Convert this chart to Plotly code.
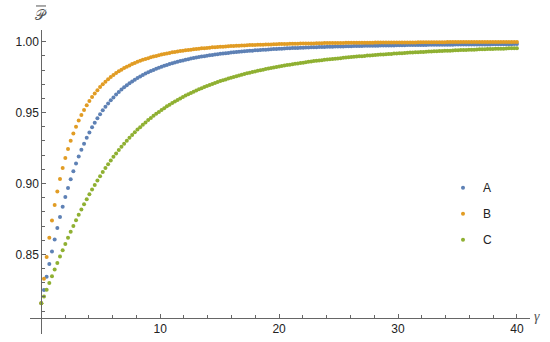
import numpy as np
import plotly.graph_objects as go

# sampling grid along gamma (dots are ~0.225 apart)
GAMMA = np.linspace(0, 40, 179)

P_A = [
    0.8155, 0.8249, 0.8342, 0.8433, 0.8521, 0.8605, 0.8686, 0.8763, 0.8836, 0.8904,
    0.8969, 0.9030, 0.9087, 0.9141, 0.9191, 0.9238, 0.9281, 0.9322, 0.9360, 0.9396,
    0.9429, 0.9460, 0.9489, 0.9516, 0.9541, 0.9565, 0.9587, 0.9607, 0.9627, 0.9645,
    0.9662, 0.9678, 0.9693, 0.9707, 0.9720, 0.9732, 0.9744, 0.9755, 0.9765, 0.9775,
    0.9784, 0.9793, 0.9801, 0.9809, 0.9817, 0.9824, 0.9830, 0.9836, 0.9842, 0.9848,
    0.9853, 0.9859, 0.9863, 0.9868, 0.9873, 0.9877, 0.9881, 0.9885, 0.9888, 0.9892,
    0.9895, 0.9898, 0.9901, 0.9904, 0.9907, 0.9910, 0.9912, 0.9915, 0.9917, 0.9919,
    0.9921, 0.9923, 0.9925, 0.9927, 0.9929, 0.9931, 0.9933, 0.9934, 0.9936, 0.9937,
    0.9939, 0.9940, 0.9942, 0.9943, 0.9944, 0.9945, 0.9946, 0.9948, 0.9949, 0.9950,
    0.9951, 0.9952, 0.9953, 0.9954, 0.9955, 0.9955, 0.9956, 0.9957, 0.9958, 0.9959,
    0.9959, 0.9960, 0.9961, 0.9961, 0.9962, 0.9963, 0.9963, 0.9964, 0.9964, 0.9965,
    0.9966, 0.9966, 0.9967, 0.9967, 0.9968, 0.9968, 0.9968, 0.9969, 0.9969, 0.9970,
    0.9970, 0.9971, 0.9971, 0.9971, 0.9972, 0.9972, 0.9972, 0.9973, 0.9973, 0.9973,
    0.9974, 0.9974, 0.9974, 0.9975, 0.9975, 0.9975, 0.9975, 0.9976, 0.9976, 0.9976,
    0.9976, 0.9977, 0.9977, 0.9977, 0.9977, 0.9978, 0.9978, 0.9978, 0.9978, 0.9978,
    0.9979, 0.9979, 0.9979, 0.9979, 0.9979, 0.9980, 0.9980, 0.9980, 0.9980, 0.9980,
    0.9980, 0.9981, 0.9981, 0.9981, 0.9981, 0.9981, 0.9981, 0.9981, 0.9981, 0.9982,
    0.9982, 0.9982, 0.9982, 0.9982, 0.9982, 0.9982, 0.9982, 0.9983, 0.9983,
]

P_B = [
    0.8155, 0.8328, 0.8482, 0.8618, 0.8739, 0.8848, 0.8944, 0.9031, 0.9110, 0.9180,
    0.9244, 0.9301, 0.9353, 0.9401, 0.9444, 0.9483, 0.9519, 0.9552, 0.9582, 0.9610,
    0.9635, 0.9658, 0.9680, 0.9700, 0.9718, 0.9735, 0.9751, 0.9765, 0.9779, 0.9791,
    0.9803, 0.9814, 0.9824, 0.9833, 0.9842, 0.9850, 0.9858, 0.9865, 0.9872, 0.9878,
    0.9884, 0.9890, 0.9895, 0.9900, 0.9905, 0.9909, 0.9913, 0.9917, 0.9921, 0.9925,
    0.9928, 0.9931, 0.9934, 0.9937, 0.9939, 0.9942, 0.9944, 0.9946, 0.9949, 0.9951,
    0.9953, 0.9954, 0.9956, 0.9958, 0.9960, 0.9961, 0.9962, 0.9964, 0.9965, 0.9966,
    0.9968, 0.9969, 0.9970, 0.9971, 0.9972, 0.9973, 0.9974, 0.9975, 0.9976, 0.9976,
    0.9977, 0.9978, 0.9979, 0.9979, 0.9980, 0.9981, 0.9981, 0.9982, 0.9982, 0.9983,
    0.9983, 0.9984, 0.9984, 0.9985, 0.9985, 0.9986, 0.9986, 0.9987, 0.9987, 0.9987,
    0.9988, 0.9988, 0.9988, 0.9989, 0.9989, 0.9989, 0.9990, 0.9990, 0.9990, 0.9990,
    0.9991, 0.9991, 0.9991, 0.9991, 0.9992, 0.9992, 0.9992, 0.9992, 0.9992, 0.9993,
    0.9993, 0.9993, 0.9993, 0.9993, 0.9993, 0.9994, 0.9994, 0.9994, 0.9994, 0.9994,
    0.9994, 0.9994, 0.9995, 0.9995, 0.9995, 0.9995, 0.9995, 0.9995, 0.9995, 0.9995,
    0.9995, 0.9996, 0.9996, 0.9996, 0.9996, 0.9996, 0.9996, 0.9996, 0.9996, 0.9996,
    0.9996, 0.9996, 0.9997, 0.9997, 0.9997, 0.9997, 0.9997, 0.9997, 0.9997, 0.9997,
    0.9997, 0.9997, 0.9997, 0.9997, 0.9997, 0.9997, 0.9997, 0.9997, 0.9997, 0.9998,
    0.9998, 0.9998, 0.9998, 0.9998, 0.9998, 0.9998, 0.9998, 0.9998, 0.9998,
]

P_C = [
    0.8155, 0.8203, 0.8251, 0.8298, 0.8346, 0.8393, 0.8439, 0.8485, 0.8529, 0.8574,
    0.8617, 0.8659, 0.8700, 0.8740, 0.8779, 0.8817, 0.8854, 0.8889, 0.8924, 0.8957,
    0.8990, 0.9021, 0.9051, 0.9081, 0.9109, 0.9136, 0.9162, 0.9188, 0.9212, 0.9236,
    0.9259, 0.9281, 0.9302, 0.9323, 0.9342, 0.9361, 0.9380, 0.9397, 0.9415, 0.9431,
    0.9447, 0.9462, 0.9477, 0.9491, 0.9505, 0.9519, 0.9531, 0.9544, 0.9556, 0.9567,
    0.9579, 0.9589, 0.9600, 0.9610, 0.9620, 0.9629, 0.9638, 0.9647, 0.9656, 0.9664,
    0.9672, 0.9680, 0.9687, 0.9695, 0.9702, 0.9709, 0.9715, 0.9722, 0.9728, 0.9734,
    0.9740, 0.9746, 0.9751, 0.9757, 0.9762, 0.9767, 0.9772, 0.9777, 0.9781, 0.9786,
    0.9790, 0.9795, 0.9799, 0.9803, 0.9807, 0.9811, 0.9814, 0.9818, 0.9822, 0.9825,
    0.9828, 0.9832, 0.9835, 0.9838, 0.9841, 0.9844, 0.9847, 0.9850, 0.9852, 0.9855,
    0.9858, 0.9860, 0.9863, 0.9865, 0.9867, 0.9870, 0.9872, 0.9874, 0.9876, 0.9878,
    0.9880, 0.9882, 0.9884, 0.9886, 0.9888, 0.9890, 0.9892, 0.9893, 0.9895, 0.9897,
    0.9898, 0.9900, 0.9902, 0.9903, 0.9905, 0.9906, 0.9908, 0.9909, 0.9910, 0.9912,
    0.9913, 0.9914, 0.9916, 0.9917, 0.9918, 0.9919, 0.9920, 0.9922, 0.9923, 0.9924,
    0.9925, 0.9926, 0.9927, 0.9928, 0.9929, 0.9930, 0.9931, 0.9932, 0.9933, 0.9934,
    0.9935, 0.9936, 0.9936, 0.9937, 0.9938, 0.9939, 0.9940, 0.9941, 0.9941, 0.9942,
    0.9943, 0.9944, 0.9944, 0.9945, 0.9946, 0.9946, 0.9947, 0.9948, 0.9948, 0.9949,
    0.9950, 0.9950, 0.9951, 0.9951, 0.9952, 0.9953, 0.9953, 0.9954, 0.9954,
]

SERIES = [("A", P_A, "#5E81B5"), ("B", P_B, "#E19C24"), ("C", P_C, "#8FB032")]

X_TICKS = [10, 20, 30, 40]
Y_TICKS = [0.85, 0.90, 0.95, 1.00]

fig = go.Figure()
for name, vals, col in SERIES:
    fig.add_trace(go.Scatter(x=GAMMA, y=vals, mode="markers", name=name, legendgroup=name,
                             marker=dict(size=4, color=col, line=dict(width=0)),
                             cliponaxis=False))

axis_font = dict(family="Liberation Sans, Arial", size=12, color="#222")
fig.update_layout(
    width=550, height=342,
    margin=dict(l=30, r=20, t=30, b=8),
    plot_bgcolor="white", paper_bgcolor="white",
    xaxis=dict(range=[-0.95, 41.1], anchor="free", position=0.0536, automargin=False,
               showline=True, linecolor="#666", linewidth=1, showgrid=False, zeroline=False,
               ticks="inside", ticklen=4, tickcolor="#666", tickvals=X_TICKS,
               tickfont=axis_font,
               minor=dict(tickvals=[v for v in range(2, 41, 2) if v % 10], ticks="inside",
                          ticklen=2.5, tickcolor="#666", showgrid=False)),
    yaxis=dict(range=[0.79385, 1.00825], anchor="free", position=0.0226, automargin=False,
               showline=True, linecolor="#666", linewidth=1, showgrid=False, zeroline=False,
               ticks="inside", ticklen=4, tickcolor="#666", tickvals=Y_TICKS,
               tickformat=".2f", tickfont=axis_font,
               minor=dict(tickvals=[round(0.8 + 0.01 * i, 2) for i in range(1, 20) if i % 5],
                          ticks="inside", ticklen=2.5, tickcolor="#666", showgrid=False)),
    legend=dict(x=0.826, y=0.529, yanchor="top",
                font=dict(family="Liberation Sans, Arial", size=12, color="#222"),
                tracegroupgap=7, bgcolor="rgba(0,0,0,0)"),
    annotations=[
        dict(xref="paper", yref="paper", x=1.014, y=0.056, xanchor="center", yanchor="middle",
             text="<i>γ</i>", showarrow=False,
             font=dict(family="Liberation Serif", size=14, color="#555")),
        dict(xref="paper", yref="paper", x=0.022, y=1.049, xanchor="center", yanchor="middle",
             text="𝒫", showarrow=False,
             font=dict(family="DejaVu Sans", size=14, color="#555")),
    ],
    shapes=[
        # bar over the P label
        dict(type="line", xref="paper", yref="paper", x0=0.012, x1=0.032, y0=1.079, y1=1.079,
             line=dict(color="#555", width=1)),
    ],
)
fig.write_html("out.html", config={"displayModeBar": False},
               post_script="document.body.style.margin='0';")
